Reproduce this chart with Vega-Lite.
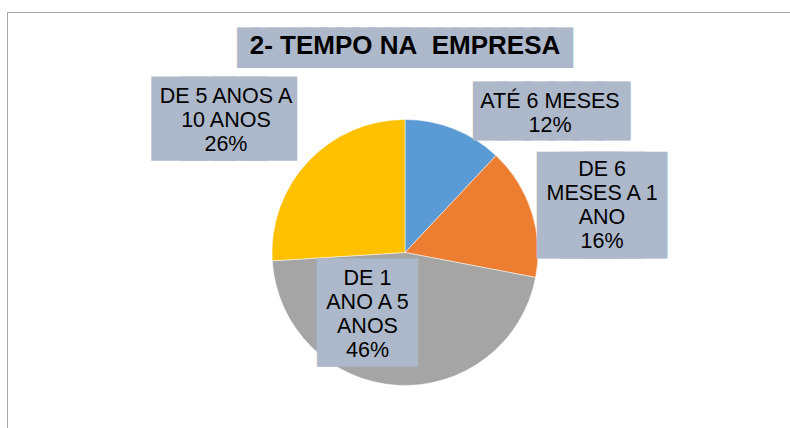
{
  "$schema": "https://vega.github.io/schema/vega-lite/v6.json",
  "width": 796,
  "height": 481,
  "autosize": {"type": "none"},
  "padding": {"left": 7, "top": 12, "right": 0, "bottom": 0},
  "background": "#ffffff",
  "view": {"stroke": "#a6a6a6", "strokeWidth": 1, "fill": null},
  "title": {
    "text": "2- TEMPO NA\u00a0 EMPRESA",
    "font": "Liberation Sans",
    "fontSize": 26,
    "fontWeight": "bold",
    "color": "#000000",
    "anchor": "middle",
    "frame": "group",
    "baseline": "alphabetic",
    "offset": -44,
    "dy": 24
  },
  "data": {
    "values": [
      {"cat": "ATÉ 6 MESES", "value": 12, "order": 1, "label": "ATÉ 6 MESES\n12%"},
      {"cat": "DE 6 MESES A 1 ANO", "value": 16, "order": 2, "label": "DE 6\nMESES A 1\nANO\n16%"},
      {"cat": "DE 1 ANO A 5 ANOS", "value": 46, "order": 3, "label": "DE 1\nANO A 5\nANOS\n46%"},
      {"cat": "DE 5 ANOS A 10 ANOS", "value": 26, "order": 4, "label": "DE 5 ANOS A\n10 ANOS\n26%"}
    ]
  },
  "transform": [
    {"stack": "value", "groupby": [], "sort": [{"field": "order", "order": "ascending"}], "as": ["v0", "v1"]}
  ],
  "layer": [
    {
      "mark": {"type": "arc", "radius": 133, "stroke": "#ffffff", "strokeWidth": 0.5},
      "encoding": {
        "theta": {"field": "v0", "type": "quantitative", "stack": null, "scale": {"domain": [0, 100]}},
        "theta2": {"field": "v1"},
        "color": {
          "field": "cat",
          "type": "nominal",
          "legend": null,
          "scale": {
            "domain": ["ATÉ 6 MESES", "DE 6 MESES A 1 ANO", "DE 1 ANO A 5 ANOS", "DE 5 ANOS A 10 ANOS"],
            "range": ["#5b9bd5", "#ed7d31", "#a5a5a5", "#ffc000"]
          }
        }
      }
    },
    {
      "transform": [{"filter": "datum.order == 1"}],
      "layer": [
        {
          "mark": {"type": "text", "font": "DejaVu Sans Mono", "fontSize": 27.2, "baseline": "alphabetic", "align": "center", "fill": "#adb9ca", "stroke": "#adb9ca", "strokeWidth": 8.3, "strokeJoin": "miter", "dx": 0, "dy": 0},
          "encoding": {
            "theta": {"field": "v0", "type": "quantitative", "stack": null, "scale": {"domain": [0, 100]}},
            "radius": {"value": 196},
            "text": {"value": "████████████████████"}
          }
        },
        {
          "mark": {"type": "text", "font": "DejaVu Sans Mono", "fontSize": 40.4, "baseline": "alphabetic", "align": "center", "fill": "#adb9ca", "stroke": "#adb9ca", "strokeWidth": 10.9, "strokeJoin": "miter", "dx": 146.5, "dy": 11},
          "encoding": {
            "theta": {"field": "v0", "type": "quantitative", "stack": null, "scale": {"domain": [0, 100]}},
            "radius": {"value": 138.5},
            "text": {"value": "██████"}
          }
        },
        {
          "mark": {"type": "text", "font": "Liberation Sans", "fontSize": 21.5, "lineHeight": 24, "lineBreak": "\n", "baseline": "middle", "align": "center", "color": "#000000", "dx": 145, "dy": -12.5},
          "encoding": {
            "theta": {"field": "v0", "type": "quantitative", "stack": null, "scale": {"domain": [0, 100]}},
            "radius": {"value": 138.5},
            "text": {"field": "label"}
          }
        }
      ]
    },
    {
      "transform": [{"filter": "datum.order == 2"}],
      "layer": [
        {
          "mark": {"type": "text", "font": "DejaVu Sans Mono", "fontSize": 37.4, "baseline": "alphabetic", "align": "center", "fill": "#adb9ca", "stroke": "#adb9ca", "strokeWidth": 62.5, "strokeJoin": "miter", "dx": 106, "dy": 62.4},
          "encoding": {
            "theta": {"field": "v0", "type": "quantitative", "stack": null, "scale": {"domain": [0, 100]}},
            "radius": {"value": 133},
            "text": {"value": "███"}
          }
        },
        {
          "mark": {"type": "text", "font": "Liberation Sans", "fontSize": 21.5, "lineHeight": 24, "lineBreak": "\n", "baseline": "middle", "align": "center", "color": "#000000", "dx": 106, "dy": 14},
          "encoding": {
            "theta": {"field": "v0", "type": "quantitative", "stack": null, "scale": {"domain": [0, 100]}},
            "radius": {"value": 133},
            "text": {"field": "label"}
          }
        }
      ]
    },
    {
      "transform": [{"filter": "datum.order == 3"}],
      "layer": [
        {
          "mark": {"type": "text", "font": "DejaVu Sans Mono", "fontSize": 12.5, "baseline": "alphabetic", "align": "center", "fill": "#adb9ca", "stroke": "#adb9ca", "strokeWidth": 93.5, "strokeJoin": "miter", "dx": -37.5, "dy": 64.8},
          "encoding": {
            "theta": {"field": "v0", "type": "quantitative", "stack": null, "scale": {"domain": [0, 100]}},
            "radius": {"value": 0},
            "text": {"value": "█"}
          }
        },
        {
          "mark": {"type": "text", "font": "Liberation Sans", "fontSize": 21.5, "lineHeight": 24, "lineBreak": "\n", "baseline": "middle", "align": "center", "color": "#000000", "dx": -37.5, "dy": 26},
          "encoding": {
            "theta": {"field": "v0", "type": "quantitative", "stack": null, "scale": {"domain": [0, 100]}},
            "radius": {"value": 0},
            "text": {"field": "label"}
          }
        }
      ]
    },
    {
      "transform": [{"filter": "datum.order == 4"}],
      "layer": [
        {
          "mark": {"type": "text", "font": "DejaVu Sans Mono", "fontSize": 49.8, "baseline": "alphabetic", "align": "center", "fill": "#adb9ca", "stroke": "#adb9ca", "strokeWidth": 25, "strokeJoin": "miter", "dx": -47.8, "dy": -125.2},
          "encoding": {
            "theta": {"field": "v0", "type": "quantitative", "stack": null, "scale": {"domain": [0, 100]}},
            "radius": {"value": 133},
            "text": {"value": "████"}
          }
        },
        {
          "mark": {"type": "text", "font": "Liberation Sans", "fontSize": 21.5, "lineHeight": 24, "lineBreak": "\n", "baseline": "middle", "align": "center", "color": "#000000", "dx": -46.3, "dy": -164.3},
          "encoding": {
            "theta": {"field": "v0", "type": "quantitative", "stack": null, "scale": {"domain": [0, 100]}},
            "radius": {"value": 133},
            "text": {"field": "label"}
          }
        }
      ]
    }
  ],
  "config": {
    "view": {"stroke": "#a6a6a6", "strokeWidth": 1}
  }
}
